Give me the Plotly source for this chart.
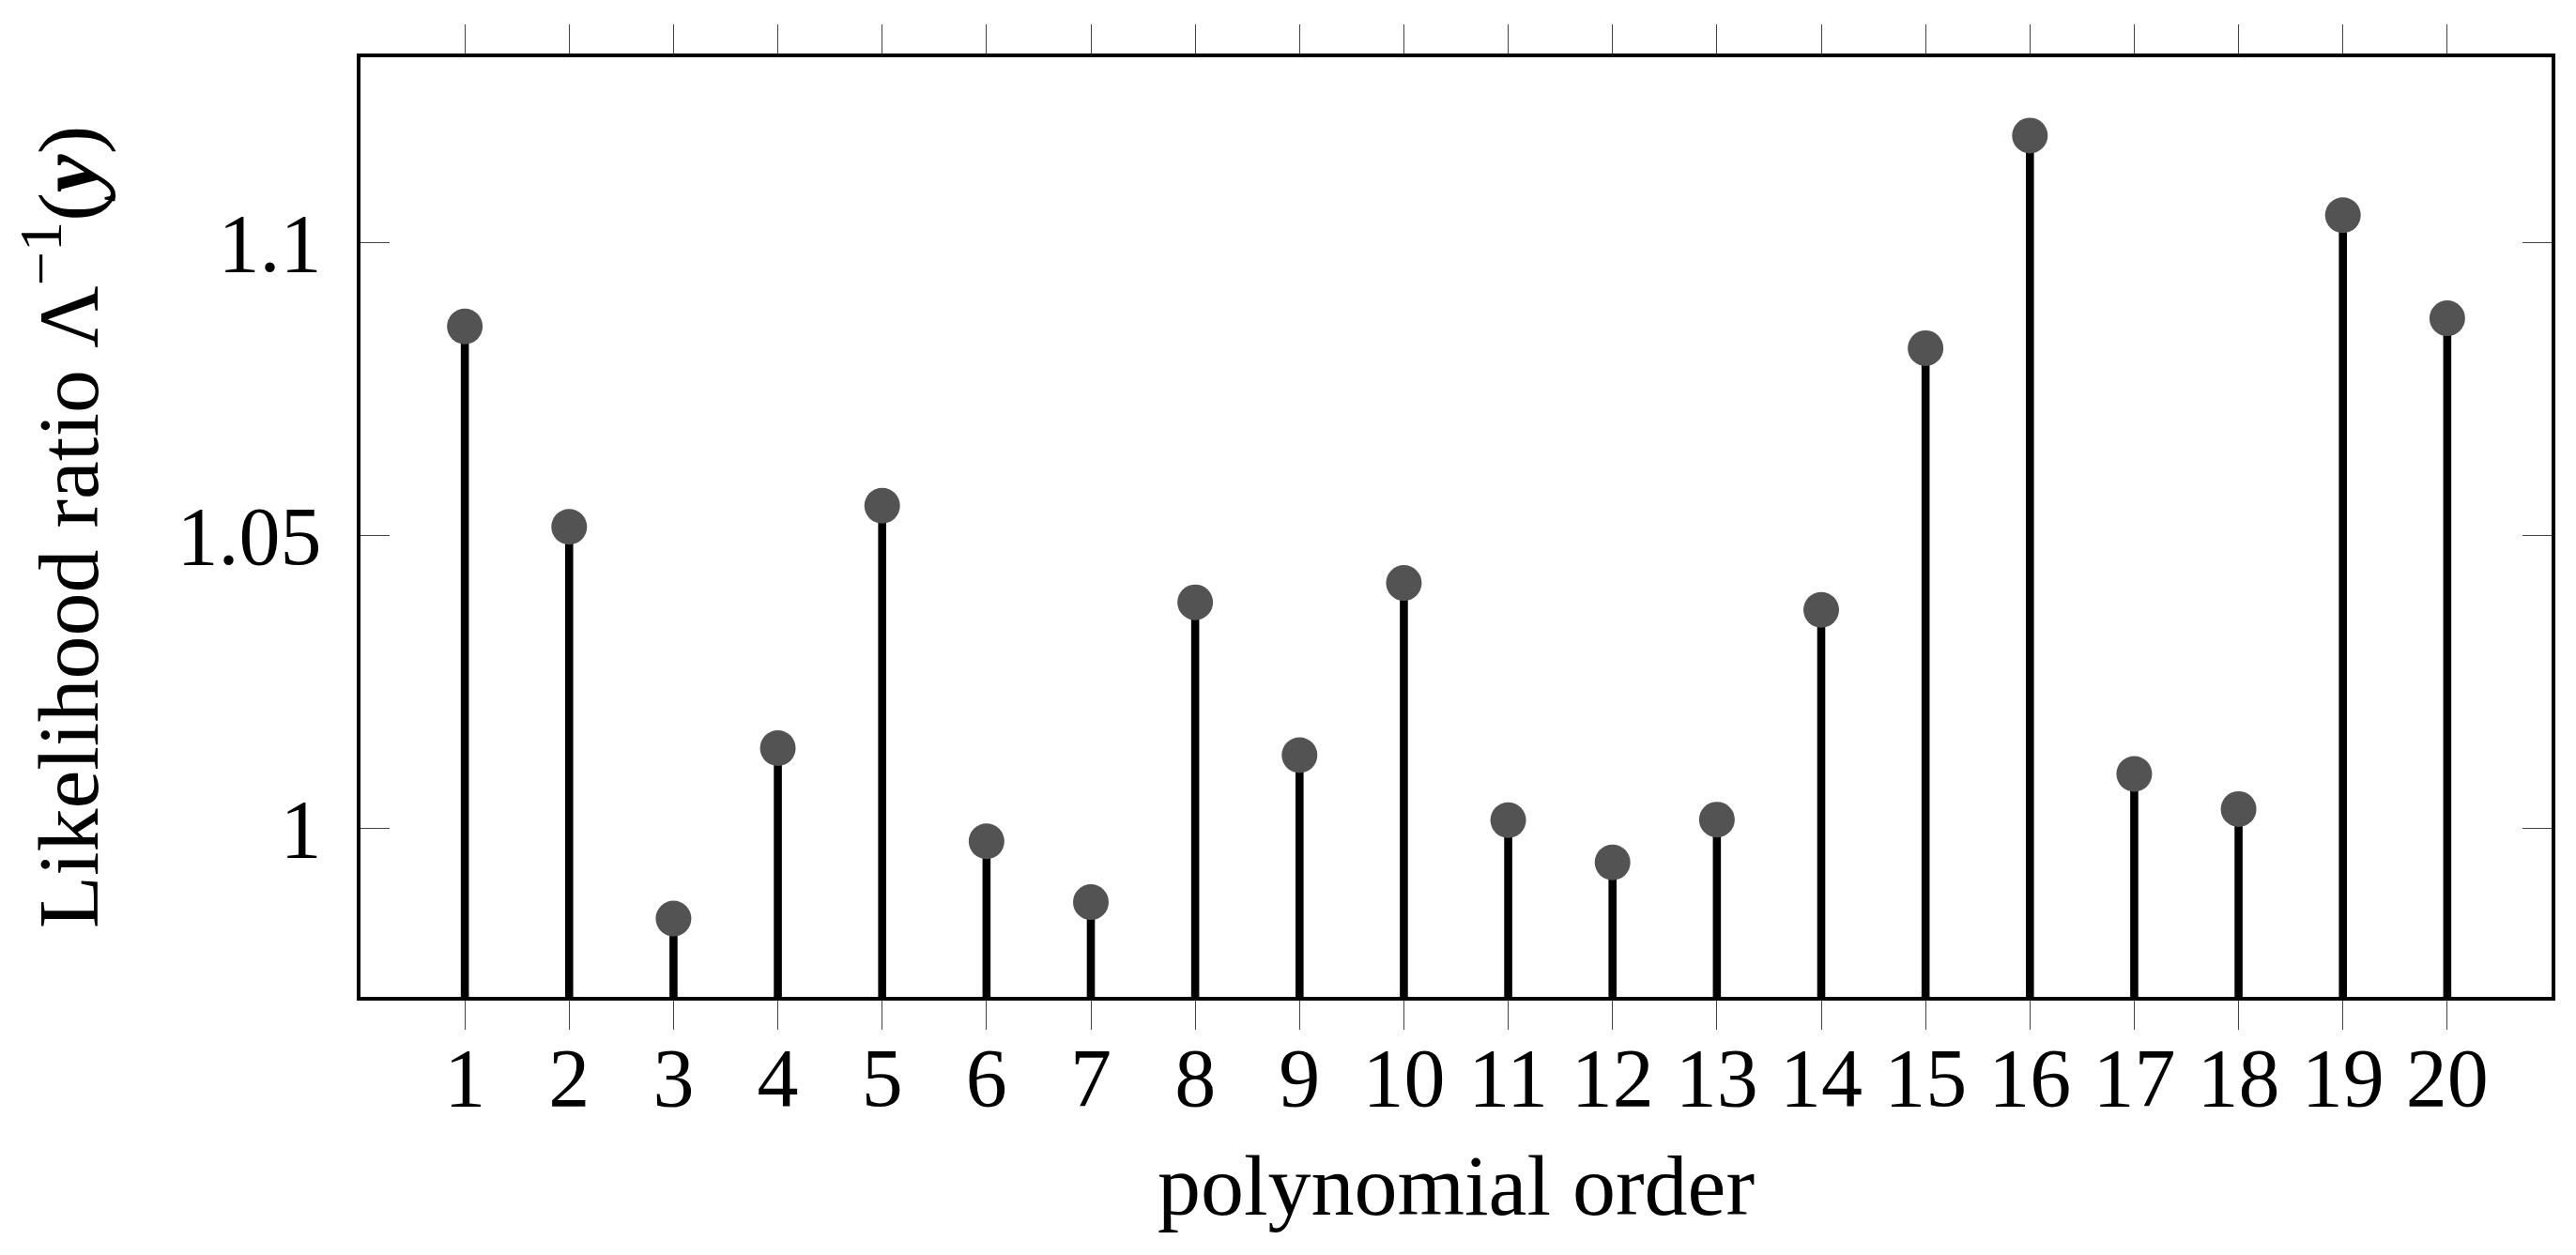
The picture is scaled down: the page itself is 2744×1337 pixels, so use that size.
import plotly.graph_objects as go

# polynomial order vs inverse likelihood ratio
orders = list(range(1, 21))
ratio = [1.0857, 1.0515, 0.9846, 1.0137, 1.0551, 0.9978, 0.9874, 1.0386, 1.0125, 1.0419,
         1.0014, 0.9942, 1.0015, 1.0373, 1.0820, 1.1183, 1.0093, 1.0033, 1.1047, 1.0871]
x_ticks = orders
y_ticks = [1, 1.05, 1.1]
y_tick_text = ['1', '1.05', '1.1']

# pgfplots-style axis limits (10% enlargement)
span = max(ratio) - min(ratio)
y_lo = min(ratio) - 0.1 * span
y_hi = max(ratio) + 0.1 * span

font = 'Liberation Serif'

fig = go.Figure()

# stems drawn as one-sided error bars down to the bottom axis
fig.add_trace(go.Scatter(
	x=orders,
	y=ratio,
	mode='markers',
	marker=dict(size=38, color='#535353', line=dict(width=0)),
	error_y=dict(
		type='data',
		symmetric=False,
		array=[0] * len(ratio),
		arrayminus=[v - y_lo for v in ratio],
		color='black',
		thickness=8.6,
		width=0
	),
	cliponaxis=True,
	showlegend=False
))

axis_common = dict(
	showline=True,
	linecolor='black',
	linewidth=3.6,
	mirror='allticks',
	showgrid=False,
	zeroline=False,
	ticklen=31,
	tickwidth=1.3,
	tickcolor='#444',
	tickfont=dict(family=font, size=88, color='black')
)

fig.update_xaxes(
	**axis_common,
	range=[0, 21],
	tickmode='array',
	tickvals=x_ticks,
	ticks='outside',
	ticklabelstandoff=-24,
	title=dict(text='polynomial order', font=dict(family=font, size=92, color='black'), standoff=34)
)

fig.update_yaxes(
	**axis_common,
	range=[y_lo, y_hi],
	tickmode='array',
	tickvals=y_ticks,
	ticktext=y_tick_text,
	ticks='inside',
	ticklabelstandoff=20,
	title=dict(
		text='Likelihood ratio Λ<sup>−1</sup>(<b><i>y</i></b>)',
		font=dict(family=font, size=92, color='black'),
		standoff=56
	)
)

fig.update_layout(
	width=2744,
	height=1337,
	margin=dict(l=376, r=34, t=53, b=283),
	plot_bgcolor='white',
	paper_bgcolor='white'
)

fig.write_html('out.html')
